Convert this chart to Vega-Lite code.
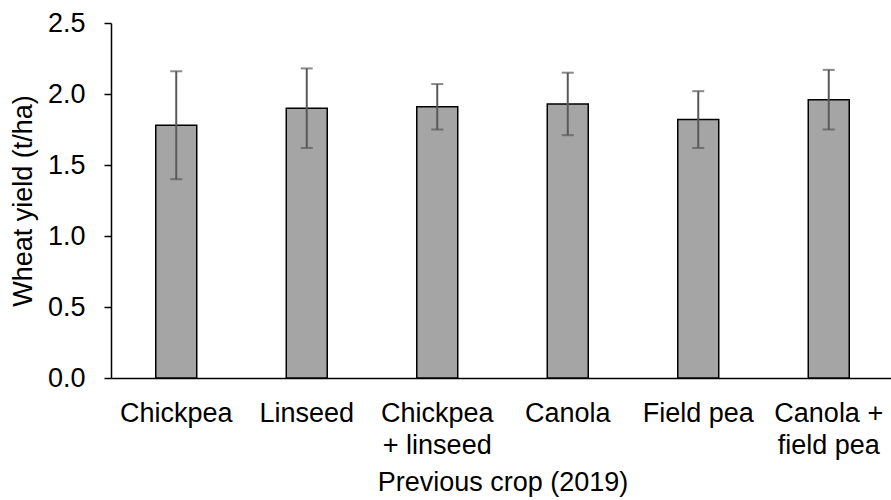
{
  "$schema": "https://vega.github.io/schema/vega-lite/v6.json",
  "width": 780,
  "height": 355,
  "autosize": "none",
  "padding": {"left": 111, "top": 23, "right": 0, "bottom": 122},
  "background": "white",
  "config": {
    "font": "Liberation Sans",
    "view": {"stroke": null},
    "axis": {
      "labelFont": "Liberation Sans",
      "titleFont": "Liberation Sans",
      "labelColor": "#000000",
      "titleColor": "#000000",
      "titleFontWeight": "normal",
      "domainColor": "#000000",
      "tickColor": "#000000",
      "grid": false
    }
  },
  "data": {
    "values": [
      {"crop": "Chickpea", "yield": 1.78, "err": 0.38},
      {"crop": "Linseed", "yield": 1.9, "err": 0.28},
      {"crop": "Chickpea|+ linseed", "yield": 1.91, "err": 0.16},
      {"crop": "Canola", "yield": 1.93, "err": 0.22},
      {"crop": "Field pea", "yield": 1.82, "err": 0.2},
      {"crop": "Canola +|field pea", "yield": 1.96, "err": 0.21}
    ]
  },
  "encoding": {
    "x": {
      "field": "crop",
      "type": "nominal",
      "sort": null,
      "scale": {"range": [0, 783], "paddingInner": 0.686, "paddingOuter": 0.343},
      "axis": {
        "title": "Previous crop (2019)",
        "titleFontSize": 27,
        "titlePadding": 11,
        "labelFontSize": 27,
        "labelAngle": 0,
        "labelPadding": 22,
        "labelLineHeight": 32,
        "labelExpr": "split(datum.label, '|')",
        "ticks": false,
        "domainWidth": 1.5
      }
    }
  },
  "layer": [
    {
      "mark": {"type": "bar", "fill": "#A5A5A5", "stroke": "#000000", "strokeWidth": 1.5},
      "encoding": {
        "y": {
          "field": "yield",
          "type": "quantitative",
          "title": "Wheat yield (t/ha)",
          "scale": {"domain": [0, 2.5], "nice": false},
          "axis": {
            "titleFontSize": 27,
            "titlePadding": 10,
            "labelFontSize": 27,
            "labelPadding": 19,
            "values": [0, 0.5, 1, 1.5, 2, 2.5],
            "format": ".1f",
            "tickSize": 7,
            "tickWidth": 1.5,
            "domainWidth": 1.5
          }
        }
      }
    },
    {
      "mark": {
        "type": "errorbar",
        "ticks": {"size": 12, "thickness": 2, "color": "#595959"},
        "rule": {"strokeWidth": 2, "color": "#595959"}
      },
      "encoding": {
        "y": {"field": "yield", "type": "quantitative", "title": "Wheat yield (t/ha)"},
        "yError": {"field": "err"}
      }
    }
  ]
}
